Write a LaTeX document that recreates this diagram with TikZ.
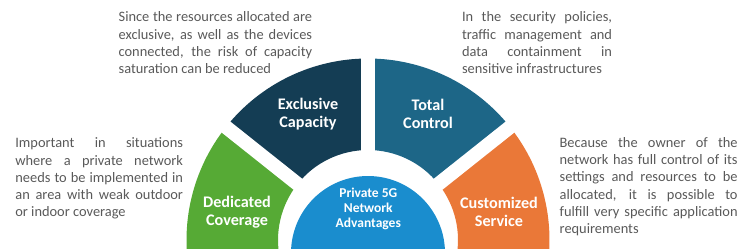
\documentclass[tikz,border=0pt]{standalone}
\usepackage{fontspec}
\setmainfont{Carlito}
\usepackage{xcolor}
\usepackage{tikz}

\definecolor{covgreen}{RGB}{86,170,53}
\definecolor{capnavy}{RGB}{20,61,84}
\definecolor{ctrlteal}{RGB}{29,102,135}
\definecolor{servorange}{RGB}{234,120,56}
\definecolor{hubblue}{RGB}{26,141,206}
\definecolor{notegray}{RGB}{89,89,89}

\begin{document}
\begin{tikzpicture}[
  x=0.02cm, y=0.02cm,
  seglabel/.style={text=white, inner sep=0pt, align=center,
                   font=\fontsize{9.2}{10.4}\selectfont\bfseries},
  note/.style={text=notegray, inner sep=0pt, anchor=north west, align=justify,
               font=\fontsize{8.2}{9.8}\selectfont},
  gapline/.style={white, line width=0.28cm},
]
\useasboundingbox (0,0) rectangle (750,248);
\clip (0,0) rectangle (750,248);

% ring of four segments
\coordinate (ring) at (368,8);
\foreach \a/\b/\c in {-12/38.5/servorange, 38.5/90/ctrlteal,
                      90/141.5/capnavy, 141.5/192/covgreen}{
  \fill[\c] ([shift={(ring)}]\a:181.5) arc[start angle=\a, end angle=\b, radius=181.5]
    -- ([shift={(ring)}]\b:90) arc[start angle=\b, end angle=\a, radius=90] -- cycle;
}
\foreach \a in {38.5,90,141.5}
  \draw[gapline] (ring) -- ([shift={(ring)}]\a:200);

% centre disc
\fill[hubblue] (368,-5) circle[radius=77];
\node[seglabel, font=\fontsize{7.7}{8.6}\selectfont\bfseries] (hublabel)
  at (368.3,39.3) {Private 5G\\Network\\Advantages};

\node[seglabel] (covlabel)  at (237,36)  {Dedicated\\Coverage};
\node[seglabel] (caplabel)  at (308,134) {Exclusive\\Capacity};
\node[seglabel] (ctrllabel) at (428,134) {Total\\Control};
\node[seglabel] (servlabel) at (499,36)  {Customized\\Service};

% notes
\node[note, text width=3.87cm] (capnote) at (118.3,236.5)
  {Since the resources allocated are\linebreak exclusive, as well as the devices\linebreak
   connected, the risk of capacity\linebreak saturation can be reduced};
\node[note, text width=3.0cm] (ctrlnote) at (461.7,236.5)
  {In the security policies,\linebreak traffic management and\linebreak
   data containment in\linebreak sensitive infrastructures};
\node[note, text width=3.354cm] (covnote) at (15,110.5)
  {Important in situations\linebreak where a private network\linebreak
   needs to be implemented in\linebreak an area with weak outdoor\linebreak
   or indoor coverage};
\node[note, text width=3.56cm] (servnote) at (559.3,111)
  {Because the owner of the\linebreak network has full control of its\linebreak
   settings and resources to be\linebreak allocated, it is possible to\linebreak
   fulfill very specific application\linebreak requirements};

\end{tikzpicture}
\end{document}
